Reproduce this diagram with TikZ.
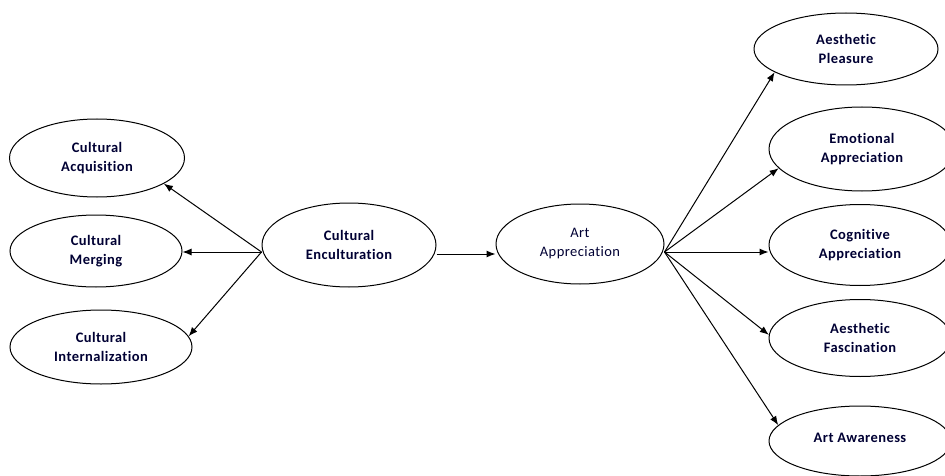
\documentclass[tikz,border=0pt]{standalone}
\usepackage{fontspec}
\setmainfont{Carlito}[LetterSpace=3,Ligatures={NoCommon}]
\usetikzlibrary{shapes.geometric,arrows.meta}
\begin{document}
\begin{tikzpicture}[x=1pt,y=-1pt,
  ell/.style={draw=black,line width=1pt,ellipse,inner sep=0pt,align=center,
    font={\fontsize{14.5}{19}\selectfont\bfseries},text=black!80!blue},
  arr/.style={draw=black,line width=1pt,-{Latex[length=9pt,width=7pt]}}]
\useasboundingbox (0,0) rectangle (945,476);
\node[ell,minimum width=175pt,minimum height=78pt] (acq) at (97,158) {Cultural\\Acquisition};
\node[ell,minimum width=172pt,minimum height=72pt] (mer) at (96,251) {Cultural\\Merging};
\node[ell,minimum width=182pt,minimum height=74pt] (int) at (101,347) {Cultural\\Internalization};
\node[ell,minimum width=174pt,minimum height=84pt] (enc) at (349,245) {Cultural\\Enculturation};
\node[ell,minimum width=168pt,minimum height=80pt,font={\fontsize{14.5}{19}\selectfont}] (art) at (580,244) {Art\\Appreciation};
\node[ell,minimum width=184pt,minimum height=72pt] (ple) at (846,49) {Aesthetic\\Pleasure};
\node[ell,minimum width=186pt,minimum height=84pt] (emo) at (862,149) {Emotional\\Appreciation};
\node[ell,minimum width=182pt,minimum height=81pt] (cog) at (860,245) {Cognitive\\Appreciation};
\node[ell,minimum width=182pt,minimum height=77pt] (fas) at (860,338) {Aesthetic\\Fascination};
\node[ell,minimum width=182pt,minimum height=70pt] (aw) at (860,441) {\raisebox{6pt}{Art Awareness}};
\coordinate (eo) at ([yshift=-7pt]enc.west);
\coordinate (ee) at ([yshift=-9pt]enc.east);
\coordinate (ao) at ([yshift=-8pt]art.east);
\draw[arr] (eo) -- (acq.-21);
\draw[arr] (eo) -- (eo -| mer.east);
\draw[arr] (eo) -- (int.7);
\draw[arr] (ee) -- (ee -| art.west);
\draw[arr] (ao) -- (ple.198);
\draw[arr] (ao) -- (emo.193);
\draw[arr] (ao) -- (ao -| cog.west);
\draw[arr] (ao) -- (fas.178);
\draw[arr] (ao) -- (aw.169);
\end{tikzpicture}
\end{document}
